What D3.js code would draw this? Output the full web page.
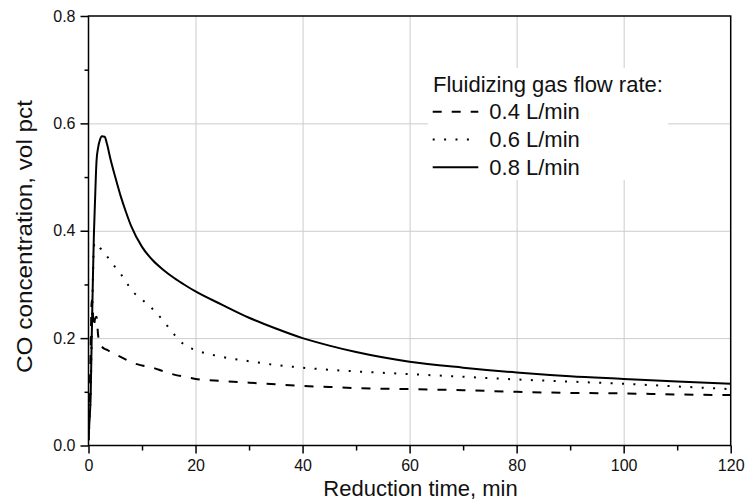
<!DOCTYPE html>
<html>
<head>
<meta charset="utf-8">
<script src="https://cdn.jsdelivr.net/npm/d3@7"></script>
<style>
    body { margin: 0; background: #fff; }
    svg { font-family: "Liberation Sans", Arial, sans-serif; }
    .grid line { stroke: #cccccc; stroke-width: 1; }
    .grid path { display: none; }
    .axis line { stroke: #000; stroke-width: 1.5; }
    .axis text { font-size: 16px; fill: #111; }
</style>
</head>
<body>
<svg width="748" height="504"></svg>
<script>
// Reduction time, min
var times = [0, 0.2, 0.4, 0.6, 0.8, 1.0, 1.2, 1.5, 1.8, 2.1, 2.5, 3, 3.5, 4, 5, 6, 7, 8,
    10, 12, 14, 16, 18, 20, 25, 30, 35, 40, 45, 50, 60, 70, 80, 90, 100, 110, 120];

// CO concentration, vol pct
var co04 = [0.01, 0.08, 0.18, 0.27, 0.25, 0.22, 0.235, 0.24, 0.205, 0.19, 0.184, 0.18, 0.178, 0.175, 0.17, 0.165, 0.16, 0.155,
    0.149, 0.145, 0.138, 0.132, 0.128, 0.124, 0.12, 0.117, 0.114, 0.111, 0.109, 0.107, 0.105, 0.103, 0.1, 0.098, 0.097, 0.095, 0.094];
var co06 = [0.01, 0.05, 0.1, 0.2, 0.3, 0.37, 0.378, 0.375, 0.372, 0.368, 0.365, 0.36, 0.352, 0.345, 0.332, 0.32, 0.305, 0.29,
    0.272, 0.254, 0.232, 0.207, 0.187, 0.178, 0.165, 0.157, 0.15, 0.145, 0.141, 0.138, 0.133, 0.128, 0.123, 0.119, 0.115, 0.11, 0.105];
var co08 = [0.01, 0.05, 0.09, 0.2, 0.3, 0.39, 0.45, 0.53, 0.555, 0.568, 0.576, 0.575, 0.56, 0.538, 0.5, 0.465, 0.435, 0.408,
    0.37, 0.345, 0.327, 0.312, 0.299, 0.287, 0.262, 0.238, 0.218, 0.2, 0.186, 0.174, 0.156, 0.145, 0.136, 0.129, 0.124, 0.119, 0.115];

var seriesNames = ["0.4 L/min", "0.6 L/min", "0.8 L/min"];
var seriesValues = [co04, co06, co08];
var seriesDash = ["9,10", "2,9.4", null];

var xTicks = [0, 20, 40, 60, 80, 100, 120];
var xMinorTicks = [10, 30, 50, 70, 90, 110];
var yTicks = [0, 0.2, 0.4, 0.6, 0.8];
var yMinorTicks = [0.1, 0.3, 0.5, 0.7];

var plotLeft = 88.5, plotRight = 730.7, plotTop = 16, plotBottom = 445.5;

var xScale = d3.scaleLinear().domain([0, 120]).range([plotLeft, plotRight]);
var yScale = d3.scaleLinear().domain([0, 0.8]).range([plotBottom, plotTop]);

var svg = d3.select("svg");

svg.append("defs").append("clipPath")
    .attr("id", "plotClip")
    .append("rect")
    .attr("x", plotLeft)
    .attr("y", plotTop)
    .attr("width", plotRight - plotLeft)
    .attr("height", plotBottom - plotTop);

// Grid
svg.append("g")
    .attr("class", "grid")
    .attr("transform", "translate(0," + plotBottom + ")")
    .call(d3.axisBottom(xScale).tickValues(xTicks.slice(1, -1)).tickSize(-(plotBottom - plotTop)).tickFormat(""));

svg.append("g")
    .attr("class", "grid")
    .attr("transform", "translate(" + plotLeft + ",0)")
    .call(d3.axisLeft(yScale).tickValues(yTicks.slice(1, -1)).tickSize(-(plotRight - plotLeft)).tickFormat(""));

// Curves
var line = d3.line()
    .x((d, i) => xScale(times[i]))
    .y(d => yScale(d))
    .curve(d3.curveMonotoneX);

svg.append("g")
    .attr("clip-path", "url(#plotClip)")
    .selectAll("path")
    .data(seriesValues)
    .join("path")
    .attr("d", d => line(d))
    .attr("fill", "none")
    .attr("stroke", "#000")
    .attr("stroke-width", 2)
    .attr("stroke-dasharray", (d, i) => seriesDash[i]);

// Legend
var legend = svg.append("g");

legend.append("rect")
    .attr("x", 428)
    .attr("y", 68)
    .attr("width", 240)
    .attr("height", 112)
    .attr("fill", "#fff");

legend.append("text")
    .attr("x", 433)
    .attr("y", 91.7)
    .style("font-size", "22px")
    .attr("fill", "#111")
    .text("Fluidizing gas flow rate:");

seriesNames.forEach(function (name, i) {
    var baseline = 119.3 + i * 27.8;
    legend.append("line")
        .attr("x1", 432.7)
        .attr("x2", 478.3)
        .attr("y1", baseline - 7.6)
        .attr("y2", baseline - 7.6)
        .attr("stroke", "#000")
        .attr("stroke-width", 2)
        .attr("stroke-dasharray", seriesDash[i]);
    legend.append("text")
        .attr("x", 489.3)
        .attr("y", baseline)
        .style("font-size", "22px")
        .attr("fill", "#111")
        .text(name);
});

// Frame
svg.append("rect")
    .attr("x", plotLeft)
    .attr("y", plotTop)
    .attr("width", plotRight - plotLeft)
    .attr("height", plotBottom - plotTop)
    .attr("fill", "none")
    .attr("stroke", "#000")
    .attr("stroke-width", 1.5);

// Axes
svg.append("g")
    .attr("class", "axis")
    .attr("transform", "translate(0," + plotBottom + ")")
    .call(d3.axisBottom(xScale).tickValues(xTicks).tickSize(8).tickPadding(6).tickFormat(d3.format("d")));

svg.append("g")
    .attr("class", "axis")
    .attr("transform", "translate(0," + plotBottom + ")")
    .call(d3.axisBottom(xScale).tickValues(xMinorTicks).tickSize(5).tickFormat(""));

svg.append("g")
    .attr("class", "axis")
    .attr("transform", "translate(" + plotLeft + ",0)")
    .call(d3.axisLeft(yScale).tickValues(yTicks).tickSize(8).tickPadding(5).tickFormat(d3.format(".1f")));

svg.append("g")
    .attr("class", "axis")
    .attr("transform", "translate(" + plotLeft + ",0)")
    .call(d3.axisLeft(yScale).tickValues(yMinorTicks).tickSize(4).tickFormat(""));

svg.selectAll(".axis path").remove();
svg.selectAll(".axis").attr("font-family", null).attr("font-size", null);

// Axis titles
svg.append("text")
    .attr("x", 420.5)
    .attr("y", 496)
    .attr("text-anchor", "middle")
    .style("font-size", "22px")
    .attr("fill", "#111")
    .text("Reduction time, min");

svg.append("text")
    .attr("transform", "translate(32,236.5) rotate(-90)")
    .attr("text-anchor", "middle")
    .attr("textLength", 273)
    .attr("lengthAdjust", "spacingAndGlyphs")
    .style("font-size", "22px")
    .attr("fill", "#111")
    .text("CO concentration, vol pct");
</script>
</body>
</html>
